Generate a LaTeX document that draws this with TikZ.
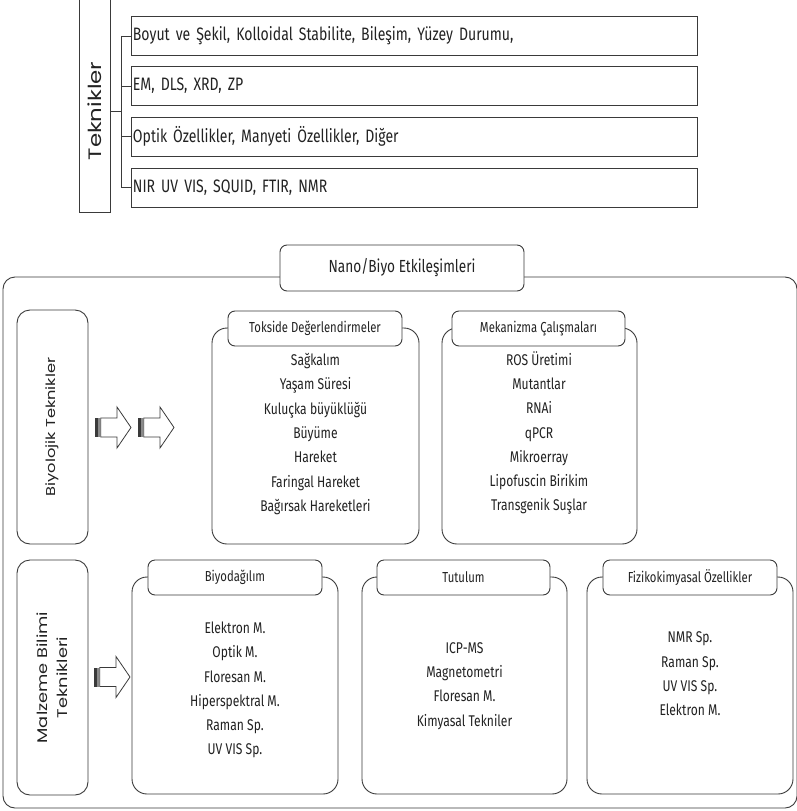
\documentclass[tikz,border=0pt]{standalone}
\usepackage{graphicx}
\usepackage{fontspec}
\setmainfont[FakeStretch=0.78]{Fira Sans}
\newfontfamily\geo[FakeStretch=1.27]{Poppins}
\definecolor{ln}{HTML}{3A3A3A}
\definecolor{tx}{HTML}{222222}
\definecolor{adark}{HTML}{3A3A3A}
\definecolor{amid}{HTML}{8A8A8A}
\tikzset{
  base/.style={draw=ln, line width=0.9pt, text=tx, inner sep=0pt},
  tbox/.style={base, anchor=north west, text width=563pt, inner xsep=1.5pt, align=left, minimum height=39pt, font=\fontsize{18}{20}\selectfont},
  sidebox/.style={base, rounded corners=13pt, minimum width=71pt},
  sidelabel/.style={rotate=90, text=tx, align=center, inner sep=0pt},
  panel/.style={base, rounded corners=15pt, fill=white},
  hdr/.style={base, rounded corners=7pt, fill=white, font=\fontsize{14.5}{17}\selectfont},
  list/.style={text=tx, align=center, inner sep=0pt, font=\fontsize{15.5}{24.3}\selectfont},
  conn/.style={draw=ln, line width=0.9pt},
  sarrow/.pic={
    \fill[adark] (0,-9.5) rectangle (2.6,9.5);
    \fill[amid] (3.4,-9.5) rectangle (5,9.5);
    \draw[ln, line width=0.8pt, line join=miter] (5.8,-9.5) -- (22,-9.5) -- (22,-20.5) -- (36,0) -- (22,20.5) -- (22,9.5) -- (5.8,9.5) -- cycle;
  }
}
\begin{document}
\begin{tikzpicture}[x=1pt,y=-1pt]
\useasboundingbox (0,0) rectangle (796,811);
% ---------- top part ----------
\node[base, minimum width=31pt, minimum height=232pt] (tek) at (94.5,96) {};
\coordinate (bj) at (121,111);
\node[sidelabel, font=\geo\fontsize{18}{20}\selectfont] (tekt) at (tek.center |- bj) {Teknikler};
\node[tbox] (b1) at (131,16) {Boyut ve Şekil, Kolloidal Stabilite, Bileşim, Yüzey Durumu,};
\node[tbox] (b2) at (131,66) {EM, DLS, XRD, ZP};
\node[tbox] (b3) at (131,116.5) {Optik Özellikler, Manyeti Özellikler, Diğer};
\node[tbox] (b4) at (131,167.5) {NIR UV VIS, SQUID, FTIR, NMR};
\draw[conn] (tek.east |- bj) -- (bj);
\draw[conn] (bj |- b1.west) -- (bj |- b4.west);
\foreach \i in {1,2,3,4} \draw[conn] (bj |- b\i.west) -- (b\i.west);
% ---------- bottom part ----------
\node[base, rounded corners=12pt, minimum width=794pt, minimum height=531pt] (outer) at (400,542.5) {};
\node[hdr, minimum width=244pt, minimum height=46pt, font=\fontsize{17.5}{20}\selectfont] (title) at (402,268) {Nano/Biyo Etkileşimleri};
% side boxes
\node[sidebox, minimum height=234pt] (biyo) at (52.5,427) {};
\node[sidelabel, font=\geo\fontsize{12.8}{16}\selectfont] (biyot) at (biyo.center) {Biyolojik Teknikler};
\node[sidebox, minimum height=235pt] (malz) at (52.5,677.5) {};
\node[sidelabel, font=\geo\fontsize{14}{20}\selectfont] (malzt) at (malz.center) {Malzeme Bilimi\\Teknikleri};
% arrows
\pic at (95,427.5) {sarrow};
\pic at (138,427.5) {sarrow};
\pic at (94,677) {sarrow};
% panels, first row
\node[panel, minimum width=207pt, minimum height=216pt] (toxp) at (315.5,436) {};
\node[hdr, minimum width=174pt, minimum height=35pt] (toxh) at (315,328.5) {Tokside Değerlendirmeler};
\node[list] (toxl) at (315.5,434) {Sağkalım\\Yaşam Süresi\\Kuluçka büyüklüğü\\Büyüme\\Hareket\\Faringal Hareket\\Bağırsak Hareketleri};
\node[panel, minimum width=195pt, minimum height=216pt] (mekp) at (539.5,436) {};
\node[hdr, minimum width=173pt, minimum height=35pt] (mekh) at (538.5,328.5) {Mekanizma Çalışmaları};
\node[list] (mekl) at (539,433) {ROS Üretimi\\Mutantlar\\RNAi\\qPCR\\Mikroerray\\Lipofuscin Birikim\\Transgenik Suşlar};
% panels, second row
\node[panel, minimum width=206pt, minimum height=217pt] (biop) at (235,685.5) {};
\node[hdr, minimum width=174pt, minimum height=35pt] (bioh) at (235,577.5) {Biyodağılım};
\node[list] (biol) at (235,690) {Elektron M.\\Optik M.\\Floresan M.\\Hiperspektral M.\\Raman Sp.\\UV VIS Sp.};
\node[panel, minimum width=205pt, minimum height=217pt] (tutp) at (464.5,685.5) {};
\node[hdr, minimum width=173pt, minimum height=35pt] (tuth) at (463.5,577.5) {Tutulum};
\node[list] (tutl) at (464.5,686) {ICP-MS\\Magnetometri\\Floresan M.\\Kimyasal Tekniler};
\node[panel, minimum width=206pt, minimum height=217pt] (fizp) at (690,685.5) {};
\node[hdr, minimum width=174pt, minimum height=35pt] (fizh) at (690,577.5) {Fizikokimyasal Özellikler};
\node[list] (fizl) at (690,674) {NMR Sp.\\Raman Sp.\\UV VIS Sp.\\Elektron M.};
\end{tikzpicture}
\end{document}
